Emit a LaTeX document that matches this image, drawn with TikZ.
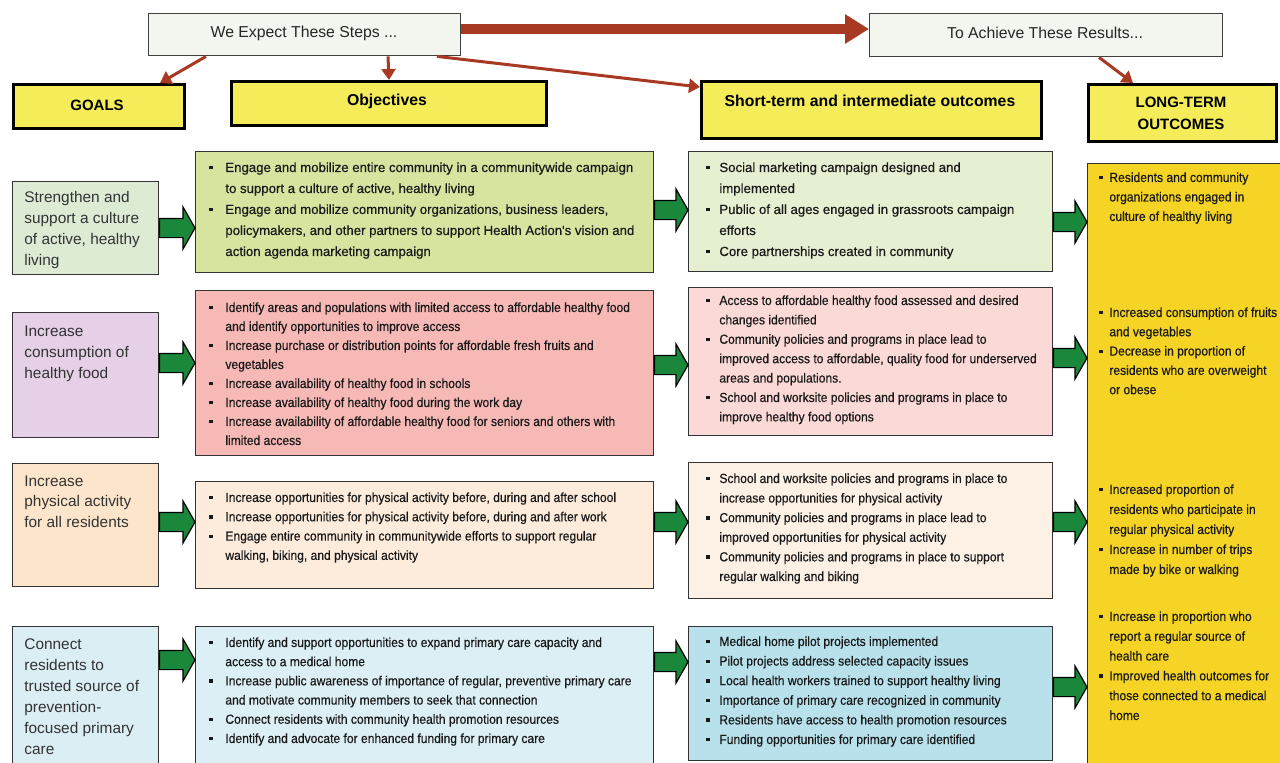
\documentclass[tikz,border=0pt]{standalone}
\usepackage{fontspec}
\setmainfont{Liberation Sans}
\newfontfamily\cond[FakeStretch=0.915,FakeBold=0.4]{Liberation Sans}
\newfontfamily\norm[FakeBold=0.4]{Liberation Sans}
\usetikzlibrary{arrows.meta,calc}
\definecolor{hdry}{RGB}{244,236,88}
\definecolor{lty}{RGB}{246,212,38}
\definecolor{topf}{RGB}{242,246,239}
\definecolor{rarrc}{RGB}{168,58,36}
\definecolor{garrc}{RGB}{26,135,58}
\definecolor{gA}{RGB}{221,235,213}\definecolor{oA}{RGB}{214,228,160}\definecolor{sA}{RGB}{229,239,210}
\definecolor{gB}{RGB}{229,208,232}\definecolor{oB}{RGB}{246,185,182}\definecolor{sB}{RGB}{251,217,214}
\definecolor{gC}{RGB}{253,229,204}\definecolor{oC}{RGB}{253,236,220}\definecolor{sC}{RGB}{253,241,230}
\definecolor{gD}{RGB}{219,238,244}\definecolor{oD}{RGB}{220,239,245}\definecolor{sD}{RGB}{184,225,236}
\newcommand\bul[1]{\makebox[#1][l]{\raisebox{1.3pt}{\rule{1.7pt}{1.7pt}}}}
\newcommand\ind[1]{\hspace*{#1}}
\newcommand\tfn[1]{\norm\fontsize{6.6}{#1}\selectfont}
\newcommand\tfc[1]{\cond\fontsize{6.6}{#1}\selectfont}
\newcommand\garrow[3]{\draw[garr] let \p1=(#1.east |- 0,#3), \p2=(#2.west |- 0,#3) in
  (\x1,\y1+4.8pt) -- (\x2-6pt,\y1+4.8pt) -- (\x2-6pt,\y1+10.5pt) -- (\x2,\y1) --
  (\x2-6pt,\y1-10.5pt) -- (\x2-6pt,\y1-4.8pt) -- (\x1,\y1-4.8pt) -- cycle;}
\tikzset{
  box/.style={draw=black!80, line width=0.7pt, inner sep=0pt, anchor=north west},
  topbox/.style={box, fill=topf, draw=black!75},
  hdrbox/.style={box, fill=hdry, draw=black, line width=1.5pt},
  hdrtxt/.style={inner sep=0pt, font=\bfseries\fontsize{7.9}{11}\selectfont, align=center},
  goaltxt/.style={inner sep=0pt, anchor=north west, align=left, text=black!80, font=\fontsize{7.7}{10.5}\selectfont},
  txt/.style={inner sep=0pt, anchor=north west, align=left, text=black!90},
  rarr/.style={draw=rarrc, line width=1.5pt, -{Triangle[length=5.5pt,width=7pt]}},
  bigarr/.style={draw=rarrc, line width=5pt, -{Triangle[length=12pt,width=14pt]}},
  garr/.style={fill=garrc, draw=black, line width=0.6pt, line join=miter}
}
\begin{document}
\begin{tikzpicture}[x=0.5pt,y=-0.5pt]
\useasboundingbox (0,0) rectangle (1280,762);
\clip (0,0) rectangle (1280,762);
\fill[white] (0,0) rectangle (1280,762);

% top boxes
\node[topbox, minimum width=312*0.5pt, minimum height=42*0.5pt] (steps) at (148,13) {};
\node[inner sep=0pt, font=\fontsize{7.9}{9}\selectfont, text=black!85] (stepst) at (304,33) {We Expect These Steps ...};
\node[topbox, minimum width=353*0.5pt, minimum height=43*0.5pt] (results) at (869,13) {};
\node[inner sep=0pt, font=\fontsize{7.9}{9}\selectfont, text=black!85] (resultst) at (1045,33) {To Achieve These Results...};

% header boxes
\node[hdrbox, minimum width=171*0.5pt, minimum height=44*0.5pt] (goals) at (12,83) {};
\node[hdrtxt, font=\bfseries\fontsize{7.5}{11}\selectfont] (goalst) at (97,105) {GOALS};
\node[hdrbox, minimum width=315*0.5pt, minimum height=44*0.5pt] (obj) at (230,80) {};
\node[hdrtxt] (objt) at (387,101) {Objectives};
\node[hdrbox, minimum width=340*0.5pt, minimum height=57*0.5pt] (sht) at (700,80) {};
\node[hdrtxt] (shtt) at (870,101) {Short-term and intermediate outcomes};
\node[hdrbox, minimum width=188*0.5pt, minimum height=57*0.5pt] (lth) at (1087,83) {};
\node[hdrtxt, font=\bfseries\fontsize{7.5}{11}\selectfont] (ltht) at (1181,113) {LONG-TERM\\OUTCOMES};

% red arrows
\draw[bigarr] (steps.east |- 0,29) -- (results.west |- 0,29);
\draw[rarr] ($(steps.south west)+(58,0)$) -- ($(goals.north west)+(148,0)$);
\draw[rarr] ($(steps.south west)+(240,0)$) -- (obj.north);
\draw[rarr] ($(steps.south west)+(289,0)$) -- ($(sht.north west)+(0,7)$);
\draw[rarr] ($(results.south west)+(230,0)$) -- ($(lth.north west)+(46,0)$);

% long-term column
\node[box, fill=lty, minimum width=220*0.5pt, minimum height=620*0.5pt] (lt) at (1087,163) {};

% ---------- row 1
\node[box, fill=gA, minimum width=146*0.5pt, minimum height=93*0.5pt] (g1) at (12,181) {};
\node[goaltxt] (g1t) at (24,191) {Strengthen and\\support a culture\\of active, healthy\\living};
\node[box, fill=oA, minimum width=458*0.5pt, minimum height=121*0.5pt] (o1) at (195,151) {};
\node[txt, font=\tfn{10.5}] (o1t) at (209,162) {%
\bul{8pt}Engage and mobilize entire community in a communitywide campaign\\
\ind{8pt}to support a culture of active, healthy living\\
\bul{8pt}Engage and mobilize community organizations, business leaders,\\
\ind{8pt}policymakers, and other partners to support Health Action's vision and\\
\ind{8pt}action agenda marketing campaign};
\node[box, fill=sA, minimum width=364*0.5pt, minimum height=120*0.5pt] (s1) at (688,151) {};
\node[txt, font=\tfn{10.5}] (s1t) at (706,162) {%
\bul{6.5pt}Social marketing campaign designed and\\
\ind{6.5pt}implemented\\
\bul{6.5pt}Public of all ages engaged in grassroots campaign\\
\ind{6.5pt}efforts\\
\bul{6.5pt}Core partnerships created in community};
\node[txt, font=\tfc{9.75}] (l1t) at (1099,172) {%
\bul{5pt}Residents and community\\
\ind{5pt}organizations engaged in\\
\ind{5pt}culture of healthy living};
\garrow{g1}{o1}{228}
\garrow{o1}{s1}{210}
\garrow{s1}{lt}{222}

% ---------- row 2
\node[box, fill=gB, minimum width=146*0.5pt, minimum height=125*0.5pt] (g2) at (12,312) {};
\node[goaltxt] (g2t) at (24,325) {Increase\\consumption of\\healthy food};
\node[box, fill=oB, minimum width=458*0.5pt, minimum height=165*0.5pt] (o2) at (195,290) {};
\node[txt, font=\tfc{9.5}] (o2t) at (209,302) {%
\bul{8pt}Identify areas and populations with limited access to affordable healthy food\\
\ind{8pt}and identify opportunities to improve access\\
\bul{8pt}Increase purchase or distribution points for affordable fresh fruits and\\
\ind{8pt}vegetables\\
\bul{8pt}Increase availability of healthy food in schools\\
\bul{8pt}Increase availability of healthy food during the work day\\
\bul{8pt}Increase availability of affordable healthy food for seniors and others with\\
\ind{8pt}limited access};
\node[box, fill=sB, minimum width=364*0.5pt, minimum height=148*0.5pt] (s2) at (688,287) {};
\node[txt, font=\tfc{9.7}] (s2t) at (706,295) {%
\bul{6.5pt}Access to affordable healthy food assessed and desired\\
\ind{6.5pt}changes identified\\
\bul{6.5pt}Community policies and programs in place lead to\\
\ind{6.5pt}improved access to affordable, quality food for underserved\\
\ind{6.5pt}areas and populations.\\
\bul{6.5pt}School and worksite policies and programs in place to\\
\ind{6.5pt}improve healthy food options};
\node[txt, font=\tfc{9.65}] (l2t) at (1099,307) {%
\bul{5pt}Increased consumption of fruits\\
\ind{5pt}and vegetables\\
\bul{5pt}Decrease in proportion of\\
\ind{5pt}residents who are overweight\\
\ind{5pt}or obese};
\garrow{g2}{o2}{363}
\garrow{o2}{s2}{365}
\garrow{s2}{lt}{358}

% ---------- row 3
\node[box, fill=gC, minimum width=146*0.5pt, minimum height=123*0.5pt] (g3) at (12,463) {};
\node[goaltxt, font=\fontsize{7.7}{10.25}\selectfont] (g3t) at (24,475) {Increase\\physical activity\\for all residents};
\node[box, fill=oC, minimum width=458*0.5pt, minimum height=107*0.5pt] (o3) at (195,481) {};
\node[txt, font=\tfc{9.65}] (o3t) at (209,492) {%
\bul{8pt}Increase opportunities for physical activity before, during and after school\\
\bul{8pt}Increase opportunities for physical activity before, during and after work\\
\bul{8pt}Engage entire community in communitywide efforts to support regular\\
\ind{8pt}walking, biking, and physical activity};
\node[box, fill=sC, minimum width=364*0.5pt, minimum height=136*0.5pt] (s3) at (688,462) {};
\node[txt, font=\tfc{9.8}] (s3t) at (706,473) {%
\bul{6.5pt}School and worksite policies and programs in place to\\
\ind{6.5pt}increase opportunities for physical activity\\
\bul{6.5pt}Community policies and programs in place lead to\\
\ind{6.5pt}improved opportunities for physical activity\\
\bul{6.5pt}Community policies and programs in place to support\\
\ind{6.5pt}regular walking and biking};
\node[txt, font=\tfc{10}] (l3t) at (1099,484) {%
\bul{5pt}Increased proportion of\\
\ind{5pt}residents who participate in\\
\ind{5pt}regular physical activity\\
\bul{5pt}Increase in number of trips\\
\ind{5pt}made by bike or walking};
\garrow{g3}{o3}{522}
\garrow{o3}{s3}{522}
\garrow{s3}{lt}{522}

% ---------- row 4
\node[box, fill=gD, minimum width=146*0.5pt, minimum height=160*0.5pt] (g4) at (12,626) {};
\node[goaltxt] (g4t) at (24,638) {Connect\\residents to\\trusted source of\\prevention-\\focused primary\\care};
\node[box, fill=oD, minimum width=458*0.5pt, minimum height=160*0.5pt] (o4) at (195,626) {};
\node[txt, font=\tfc{9.6}] (o4t) at (209,637) {%
\bul{8pt}Identify and support opportunities to expand primary care capacity and\\
\ind{8pt}access to a medical home\\
\bul{8pt}Increase public awareness of importance of regular, preventive primary care\\
\ind{8pt}and motivate community members to seek that connection\\
\bul{8pt}Connect residents with community health promotion resources\\
\bul{8pt}Identify and advocate for enhanced funding for primary care};
\node[box, fill=sD, minimum width=364*0.5pt, minimum height=134*0.5pt] (s4) at (688,626) {};
\node[txt, font=\tfc{9.8}] (s4t) at (706,636) {%
\bul{6.5pt}Medical home pilot projects implemented\\
\bul{6.5pt}Pilot projects address selected capacity issues\\
\bul{6.5pt}Local health workers trained to support healthy living\\
\bul{6.5pt}Importance of primary care recognized in community\\
\bul{6.5pt}Residents have access to health promotion resources\\
\bul{6.5pt}Funding opportunities for primary care identified};
\node[txt, font=\tfc{9.9}] (l4t) at (1099,611) {%
\bul{5pt}Increase in proportion who\\
\ind{5pt}report a regular source of\\
\ind{5pt}health care\\
\bul{5pt}Improved health outcomes for\\
\ind{5pt}those connected to a medical\\
\ind{5pt}home};
\garrow{g4}{o4}{660}
\garrow{o4}{s4}{662}
\garrow{s4}{lt}{687}
\end{tikzpicture}
\end{document}
